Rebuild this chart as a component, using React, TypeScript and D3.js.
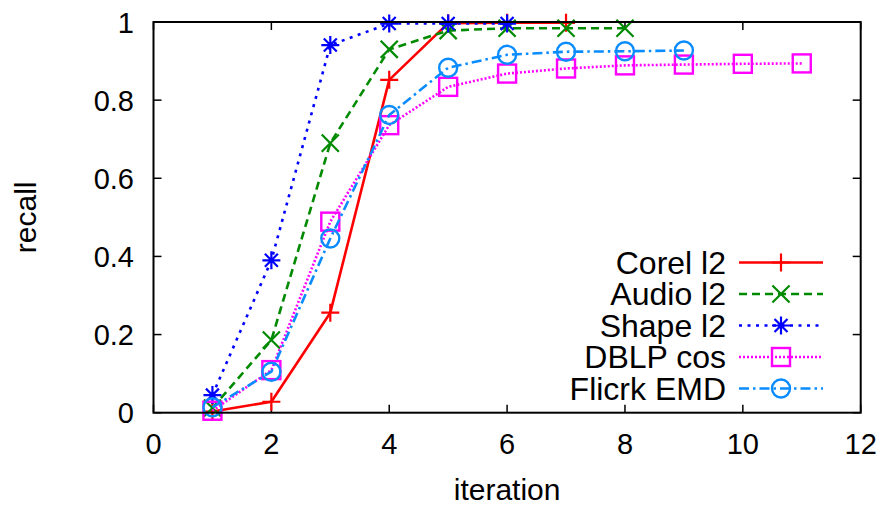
import React from "react";
import * as d3 from "d3";

const W = 886;
const H = 506;

const xTicks = [0, 2, 4, 6, 8, 10, 12];
const yTicks = [0, 0.2, 0.4, 0.6, 0.8, 1];
const yTickLabels = ["0", "0.2", "0.4", "0.6", "0.8", "1"];

const corelX = [1, 2, 3, 4, 5, 6, 7];
const corelY = [0.003, 0.028, 0.256, 0.852, 0.997, 0.998, 0.998];
const audioX = [1, 2, 3, 4, 5, 6, 7, 8];
const audioY = [0.012, 0.186, 0.69, 0.93, 0.978, 0.984, 0.984, 0.984];
const shapeX = [1, 2, 3, 4, 5, 6];
const shapeY = [0.045, 0.39, 0.941, 0.996, 0.996, 0.996];
const dblpX = [1, 2, 3, 4, 5, 6, 7, 8, 9, 10, 11];
const dblpY = [0.005, 0.109, 0.489, 0.736, 0.834, 0.868, 0.881, 0.889, 0.891, 0.893, 0.894];
const flickrX = [1, 2, 3, 4, 5, 6, 7, 8, 9];
const flickrY = [0.014, 0.105, 0.446, 0.762, 0.883, 0.916, 0.924, 0.925, 0.927];

const seriesNames = ["Corel l2", "Audio l2", "Shape l2", "DBLP cos", "Flicrk EMD"];
const seriesColors = ["#ff0000", "#008a00", "#0000ff", "#ff00ff", "#0a8cff"];
const seriesDash = ["none", "8,5", "3,5.5", "2,2", "10,4,2.5,4"];
const seriesMarker = ["plus", "cross", "star", "square", "circle"];
const seriesXs = [corelX, audioX, shapeX, dblpX, flickrX];
const seriesYs = [corelY, audioY, shapeY, dblpY, flickrY];

const FONT = "'Liberation Sans', Arial, Helvetica, sans-serif";

function Marker({ kind, x, y, color }: { kind: string; x: number; y: number; color: string }) {
  const s = 9;
  const sw = 2.2;
  if (kind === "plus") {
    return (
      <path d={`M${x - s},${y}H${x + s}M${x},${y - s}V${y + s}`} stroke={color} strokeWidth={sw} fill="none" />
    );
  }
  if (kind === "cross") {
    const d = s * 0.95;
    return (
      <path d={`M${x - d},${y - d}L${x + d},${y + d}M${x - d},${y + d}L${x + d},${y - d}`} stroke={color} strokeWidth={sw} fill="none" />
    );
  }
  if (kind === "star") {
    const d = s * 0.72;
    return (
      <path
        d={`M${x - s},${y}H${x + s}M${x},${y - s}V${y + s}M${x - d},${y - d}L${x + d},${y + d}M${x - d},${y + d}L${x + d},${y - d}`}
        stroke={color}
        strokeWidth={sw}
        fill="none"
      />
    );
  }
  if (kind === "square") {
    return <rect x={x - s} y={y - s} width={2 * s} height={2 * s} stroke={color} strokeWidth={2.4} fill="none" />;
  }
  return <circle cx={x} cy={y} r={s} stroke={color} strokeWidth={2.4} fill="none" />;
}

export default function App() {
  const left = 153.5;
  const right = 860.7;
  const top = 22;
  const bottom = 412.7;
  const x = d3.scaleLinear().domain([0, 12]).range([left, right]);
  const y = d3.scaleLinear().domain([0, 1]).range([bottom, top]);
  const tickLen = 8;

  const legendTextX = 726;
  const legendLineX0 = 739;
  const legendLineX1 = 823;
  const legendY0 = 262.5;
  const legendDY = 31.5;

  return (
    <svg width={W} height={H} style={{ position: "absolute", left: 0, top: 0, background: "#fff" }} fontFamily={FONT}>
      <rect x={0} y={0} width={W} height={H} fill="#fff" />
      {xTicks.map((t) => (
        <g key={"xt" + t}>
          <line x1={x(t)} x2={x(t)} y1={bottom} y2={bottom - tickLen} stroke="#000" strokeWidth={1.5} />
          <line x1={x(t)} x2={x(t)} y1={top} y2={top + tickLen} stroke="#000" strokeWidth={1.5} />
          <text x={x(t)} y={454.3} textAnchor="middle" fontSize={29} fill="#000">
            {t}
          </text>
        </g>
      ))}
      {yTicks.map((t, i) => (
        <g key={"yt" + t}>
          <line x1={left} x2={left + tickLen} y1={y(t)} y2={y(t)} stroke="#000" strokeWidth={1.5} />
          <line x1={right} x2={right - tickLen} y1={y(t)} y2={y(t)} stroke="#000" strokeWidth={1.5} />
          <text x={134} y={y(t) + 10.5} textAnchor="end" fontSize={29} fill="#000">
            {yTickLabels[i]}
          </text>
        </g>
      ))}
      {seriesNames.map((name, si) => {
        const pts: [number, number][] = seriesXs[si].map((xv, j) => [xv, seriesYs[si][j]]);
        const line = d3
          .line<[number, number]>()
          .x((d) => x(d[0]))
          .y((d) => y(d[1]));
        return (
          <g key={name}>
            <path
              d={line(pts) || ""}
              stroke={seriesColors[si]}
              strokeWidth={2.6}
              fill="none"
              strokeDasharray={seriesDash[si] === "none" ? undefined : seriesDash[si]}
              strokeLinejoin="round"
            />
            {pts.map((p, j) => (
              <Marker key={j} kind={seriesMarker[si]} x={x(p[0])} y={y(p[1])} color={seriesColors[si]} />
            ))}
          </g>
        );
      })}
      <rect x={left} y={top} width={right - left} height={bottom - top} fill="none" stroke="#000" strokeWidth={2} />
      {seriesNames.map((name, si) => {
        const ly = legendY0 + si * legendDY;
        return (
          <g key={"lg" + name}>
            <text x={legendTextX} y={ly + 11} textAnchor="end" fontSize={32} fill="#000">
              {name}
            </text>
            <line
              x1={legendLineX0}
              x2={legendLineX1}
              y1={ly}
              y2={ly}
              stroke={seriesColors[si]}
              strokeWidth={2.6}
              strokeDasharray={seriesDash[si] === "none" ? undefined : seriesDash[si]}
            />
            <Marker kind={seriesMarker[si]} x={(legendLineX0 + legendLineX1) / 2} y={ly} color={seriesColors[si]} />
          </g>
        );
      })}
      <text x={(left + right) / 2} y={500} textAnchor="middle" fontSize={30} fill="#000">
        iteration
      </text>
      <text
        transform={`translate(${36},${(top + bottom) / 2}) rotate(-90)`}
        textAnchor="middle"
        fontSize={30}
        fill="#000"
      >
        recall
      </text>
    </svg>
  );
}
